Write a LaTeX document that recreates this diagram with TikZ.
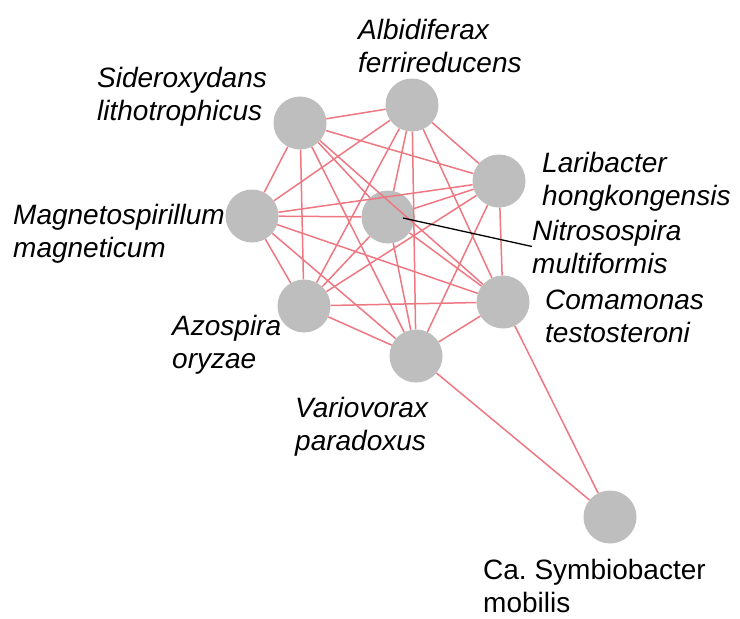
\documentclass[tikz,border=0pt]{standalone}
\usepackage{fontspec}
\setmainfont{Liberation Sans}
\definecolor{nodegray}{RGB}{190,190,190}
\definecolor{linkred}{RGB}{238,120,130}

\begin{document}
\begin{tikzpicture}[x=1pt, y=-1pt,
  taxon/.style={circle, fill=nodegray, minimum size=53pt, inner sep=0pt},
  link/.style={draw=linkred, line width=1.5pt},
  taxname/.style={anchor=base west, align=left, inner sep=0pt, font=\fontsize{28}{33}\selectfont\itshape}]
\useasboundingbox (0,0) rectangle (740,619);
% organisms
\node[taxon] (sid) at (300,123) {};
\node[taxon] (alb) at (412,105) {};
\node[taxon] (lar) at (499,181) {};
\node[taxon] (mag) at (252,216) {};
\node[taxon] (nit) at (388,217) {};
\node[taxon] (com) at (503,302) {};
\node[taxon] (azo) at (304,306) {};
\node[taxon] (var) at (416,356) {};
\node[taxon] (sym) at (610,517) {};
% co-occurrence links
\draw[link] (sid) -- (alb) (sid) -- (lar) (sid) -- (mag) (sid) -- (nit) (sid) -- (com) (sid) -- (azo) (sid) -- (var);
\draw[link] (alb) -- (lar) (alb) -- (mag) (alb) -- (nit) (alb) -- (com) (alb) -- (azo) (alb) -- (var);
\draw[link] (lar) -- (mag) (lar) -- (nit) (lar) -- (com) (lar) -- (azo) (lar) -- (var);
\draw[link] (mag) -- (nit) (mag) -- (com) (mag) -- (azo) (mag) -- (var);
\draw[link] (nit) -- (com) (nit) -- (azo) (nit) -- (var);
\draw[link] (com) -- (azo) (com) -- (var) (azo) -- (var);
\draw[link] (sym) -- (var) (sym) -- (com);
% names (anchored on the second line)
\node[taxname] (sidname) at (97,120) {Sideroxydans\\lithotrophicus};
\node[taxname] (albname) at (358,72) {Albidiferax\\ferrireducens};
\node[taxname] (larname) at (542,205) {Laribacter\\hongkongensis};
\node[taxname] (magname) at (13,257) {Magnetospirillum\\magneticum};
\node[taxname] (nitname) at (532,273) {Nitrosospira\\multiformis};
\node[taxname] (comname) at (545,342) {Comamonas\\testosteroni};
\node[taxname] (azoname) at (172,368) {Azospira\\oryzae};
\node[taxname] (varname) at (295,450) {Variovorax\\paradoxus};
\node[taxname, font=\fontsize{28}{33}\selectfont\upshape] (symname) at (483,612) {Ca.\ Symbiobacter\\mobilis};
% pointer to the centre node
\coordinate (pin) at (403,218);
\draw[line width=1.3pt] (pin) -- (nitname.west);
\end{tikzpicture}
\end{document}
